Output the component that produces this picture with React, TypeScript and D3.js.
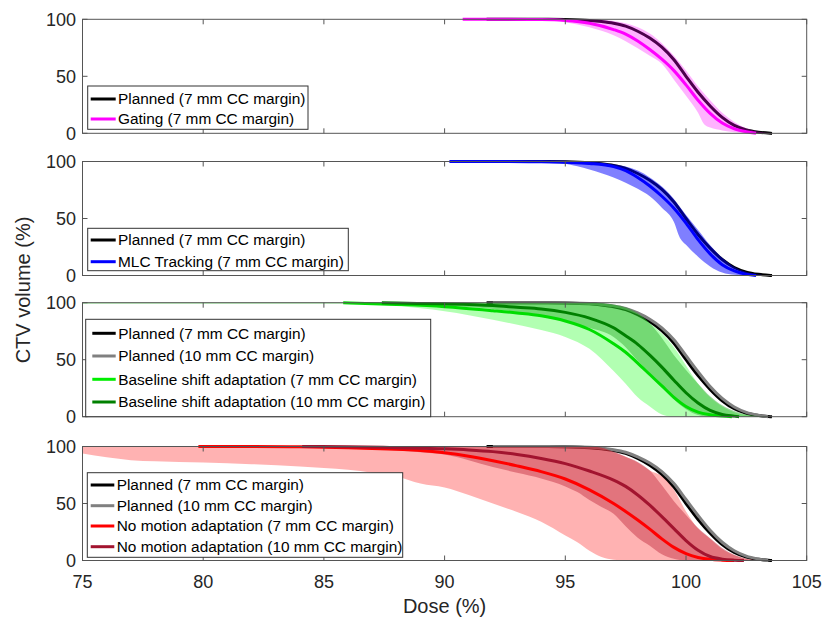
import React from 'react'
import * as d3 from 'd3'

// axes
const doseTicks = [75, 80, 85, 90, 95, 100, 105]
const volTicks = [0, 50, 100]

// planned DVHs (same in every panel)
const plannedDose7 = [91.8, 93, 94, 95, 96, 96.5, 97, 97.5, 98, 98.5, 99, 99.5, 100, 100.5, 101, 101.5, 102, 102.5, 103, 103.5]
const plannedVol7 = [100, 100, 100, 99.8, 99, 98, 96.5, 94, 89.5, 83.5, 75.5, 64.5, 50, 36, 24, 14, 7, 3, 1, 0]
const plannedDose10 = [92.0, 93, 94, 95, 96, 96.5, 97, 97.5, 98, 98.5, 99, 99.5, 100, 100.5, 101, 101.5, 102, 102.5, 103, 103.4]
const plannedVol10 = [100, 100, 100, 99.8, 99.3, 98.5, 97.2, 95, 91, 85.5, 78, 67.5, 53.5, 39.5, 26.5, 16, 8.5, 3.8, 1.3, 0]

// gating
const gatingDose = [90.75, 92, 94, 95, 96, 97, 97.5, 98, 98.5, 99, 99.5, 100, 100.5, 101, 101.5, 102, 102.5, 102.9]
const gatingVol = [100, 100, 99.8, 99, 96.5, 91, 87, 81, 73.5, 65, 55, 42.5, 29, 17.5, 9, 4, 1.3, 0]
const gatingBandDose = [94, 95, 96, 97, 98, 98.5, 99, 99.5, 100, 100.5, 100.75, 101, 101.5, 102, 102.5, 103, 103.5, 103.8]
const gatingBandLo = [100, 97.5, 93, 86, 74.5, 68, 61, 47, 33, 18, 8, 5, 2.5, 1, 0.3, 0, 0, 0]
const gatingBandHi = [100, 100, 100, 98.5, 93, 87.5, 79, 68, 55, 41, 35, 29, 18, 10, 4.5, 1.5, 0.3, 0]

// MLC tracking
const mlcDose = [90.2, 92, 94, 95, 96, 97, 97.5, 98, 98.5, 99, 99.5, 100, 100.5, 101, 101.5, 102, 102.5, 102.9]
const mlcVol = [100, 100, 99.8, 99.3, 98.3, 95.5, 92, 86, 78.5, 69.5, 59, 46, 31.5, 19, 9.5, 4, 1, 0]
const mlcBandDose = [94, 95, 96, 97, 98, 98.5, 99, 99.5, 99.75, 100, 100.5, 101, 101.5, 102, 102.5, 103, 103.5]
const mlcBandLo = [100, 98, 93, 86, 76, 69.5, 59.5, 47, 33, 27, 16.5, 8, 2.6, 0.6, 0, 0, 0]
const mlcBandHi = [100, 100, 99.5, 97.5, 92, 86, 78, 67, 60, 53, 40, 26.5, 15.5, 7.5, 3, 0.8, 0]

// baseline shift adaptation
const bsaDose7 = [85.8, 88, 90, 92, 93, 94, 95, 96, 97, 97.5, 98, 98.5, 99, 99.5, 100, 100.5, 101, 101.5, 101.9]
const bsaVol7 = [100, 98.5, 96.5, 93, 91, 88.5, 84, 76.5, 64, 56.5, 47, 37, 27, 17, 9, 4, 1.7, 0.5, 0]
const bsaDose10 = [87.4, 88, 90, 92, 93, 94, 95, 96, 97, 97.5, 98, 98.5, 99, 99.5, 100, 100.5, 101, 101.5, 102, 102.2]
const bsaVol10 = [100, 99.7, 99, 97.5, 96, 94.5, 91.5, 86.5, 78, 71, 63.5, 54, 43.5, 32, 21, 12, 5.5, 2, 0.5, 0]
const bsaBandDose = [75, 86, 88, 90, 92, 94, 95, 96, 97, 97.5, 98, 98.5, 99, 99.5, 100, 100.5, 101, 101.5, 102, 102.5, 103, 103.5]
const bsaLo7 = [99.4, 99.4, 97, 92.5, 85, 76, 70, 59.5, 40, 29, 17, 9, 2, 0, 0, 0, 0, 0, 0, 0, 0, 0]
const bsaHi7 = [100, 100, 100, 100, 100, 100, 100, 100, 98, 95, 90, 82, 73, 61, 45, 29, 17, 9, 4, 1.5, 0.3, 0]
const bsaLo10 = [99.6, 99.6, 99.3, 97, 94.5, 88, 83.5, 78, 70, 61, 49, 38, 26, 15, 6.5, 1.5, 0, 0, 0, 0, 0, 0]
const bsaHi10 = [100, 100, 100, 100, 100, 100, 100, 100, 98.5, 96, 91, 82, 69, 54, 41, 29, 18, 10, 5, 2, 0.7, 0]

// no motion adaptation
const nmaDose7 = [79.8, 82, 84, 86, 88, 89, 90, 91, 92, 93, 94, 95, 96, 97, 97.5, 98, 98.5, 99, 99.5, 100, 100.5, 101, 101.5, 102]
const nmaVol7 = [100, 100, 99.8, 99, 97.5, 96.5, 94.5, 91.5, 87.5, 83, 78, 71.5, 62, 50, 43, 35.5, 27.5, 19, 11.5, 6, 2.7, 1, 0.3, 0]
const nmaDose10 = [84.1, 86, 88, 90, 91, 92, 93, 94, 95, 96, 97, 97.5, 98, 98.5, 99, 99.5, 100, 100.5, 101, 101.5, 102, 102.4]
const nmaVol10 = [100, 99.8, 99, 98, 97, 95.5, 93, 89.5, 85, 78.5, 70.5, 65, 57.5, 48.5, 38.5, 28, 17.5, 9, 3.5, 1.2, 0.3, 0]
const nmaBandDose7 = [75, 76, 77, 78, 80, 82, 84, 86, 87, 88, 89, 90, 91, 92, 93, 94, 95, 95.5, 96, 96.5, 97, 97.5, 98, 98.5, 99, 99.5, 100, 100.5, 101, 101.5, 102, 102.5, 103]
const nmaLo7 = [93.8, 90.5, 88, 87, 86, 84.5, 82.5, 79.5, 77, 74, 67.5, 64, 57.5, 50, 42.5, 34, 22, 16, 8.5, 3, 0.7, 0, 0, 0, 0, 0, 0, 0, 0, 0, 0, 0, 0]
const nmaHi7 = [100, 100, 100, 100, 100, 100, 100, 100, 100, 100, 100, 100, 100, 100, 100, 100, 100, 100, 100, 99, 95, 91, 86, 79, 74, 62, 43, 28, 19, 10, 4.5, 1.3, 0]
const nmaBandDose10 = [84, 86, 87, 88, 89, 90, 91, 92, 93, 94, 95, 95.5, 96, 96.5, 97, 97.5, 98, 98.5, 99, 99.5, 100, 100.5, 101, 101.5, 102, 102.5, 103, 103.5]
const nmaLo10 = [99.5, 98, 97.5, 96.5, 95, 93, 88, 82, 77, 72, 65, 60, 53, 47, 41, 30, 20, 13, 5.5, 1.5, 0, 0, 0, 0, 0, 0, 0, 0]
const nmaHi10 = [100, 100, 100, 100, 100, 100, 100, 100, 100, 100, 100, 100, 100, 99, 95.6, 91, 86.5, 79, 66, 52, 40, 28.5, 19.5, 11, 5, 1.5, 0.3, 0]

// legend labels
const legend1 = ['Planned (7 mm CC margin)', 'Gating (7 mm CC margin)']
const legend2 = ['Planned (7 mm CC margin)', 'MLC Tracking (7 mm CC margin)']
const legend3 = ['Planned (7 mm CC margin)', 'Planned (10 mm CC margin)', 'Baseline shift adaptation (7 mm CC margin)', 'Baseline shift adaptation (10 mm CC margin)']
const legend4 = ['Planned (7 mm CC margin)', 'Planned (10 mm CC margin)', 'No motion adaptation (7 mm CC margin)', 'No motion adaptation (10 mm CC margin)']

const FONT = '"Liberation Sans", Arial, Helvetica, sans-serif'
const AXIS = '#555555'
const PANEL_H = 114

const x = d3.scaleLinear().domain([75, 105]).range([82.5, 806.7])

const black = '#000000'
const gray = '#808080'

const planned7 = {dose: plannedDose7, vol: plannedVol7, color: black, cap: 'square'}
const planned10 = {dose: plannedDose10, vol: plannedVol10, color: gray, cap: 'butt'}

const panels = [
  {
    top: 19.3,
    planned: [planned7],
    bands: [{dose: gatingBandDose, lo: gatingBandLo, hi: gatingBandHi, color: '#ff00ff', opacity: 0.3}],
    means: [{dose: gatingDose, vol: gatingVol, color: '#ff00ff'}],
    legend: {labels: legend1, colors: [black, '#ff00ff'], box: [87.7, 86, 220.3, 43.3], rows: [99, 119], line: [90.7, 115.7], text: 118},
  },
  {
    top: 161.5,
    planned: [planned7],
    bands: [{dose: mlcBandDose, lo: mlcBandLo, hi: mlcBandHi, color: '#0000ff', opacity: 0.5}],
    means: [{dose: mlcDose, vol: mlcVol, color: '#0000ff'}],
    legend: {labels: legend2, colors: [black, '#0000ff'], box: [87.7, 228.3, 260.6, 42.4], rows: [240, 261.7], line: [90.7, 115.7], text: 118},
  },
  {
    top: 302.7,
    planned: [planned7, planned10],
    bands: [
      {dose: bsaBandDose, lo: bsaLo7, hi: bsaHi7, color: '#00ff00', opacity: 0.3},
      {dose: bsaBandDose, lo: bsaLo10, hi: bsaHi10, color: 'rgb(40,170,40)', opacity: 0.45},
    ],
    means: [
      {dose: bsaDose7, vol: bsaVol7, color: '#00dd00'},
      {dose: bsaDose10, vol: bsaVol10, color: '#008000'},
    ],
    legend: {labels: legend3, colors: [black, gray, '#00ee00', '#008000'], box: [85.7, 319.3, 345, 97.4], rows: [333.3, 356, 379.3, 402], line: [92.3, 115.7], text: 118.3},
  },
  {
    top: 446.5,
    planned: [planned7, planned10],
    bands: [
      {dose: nmaBandDose7, lo: nmaLo7, hi: nmaHi7, color: '#ff0000', opacity: 0.3},
      {dose: nmaBandDose10, lo: nmaLo10, hi: nmaHi10, color: 'rgb(190,40,60)', opacity: 0.45},
    ],
    means: [
      {dose: nmaDose7, vol: nmaVol7, color: '#ff0000'},
      {dose: nmaDose10, vol: nmaVol10, color: '#a2142f'},
    ],
    legend: {labels: legend4, colors: [black, gray, '#ff0000', '#a2142f'], box: [87.3, 472.7, 315.4, 84.6], rows: [485, 505.7, 526, 546.7], line: [90.7, 114.3], text: 116.7},
  },
]

function Panel({p, last}: any) {
  const y = d3.scaleLinear().domain([0, 100]).range([p.top + PANEL_H, p.top])
  const [x0, x1] = x.range()
  const bottom = p.top + PANEL_H

  const line = (d: any) =>
    d3.line<number>()
      .x((_, i) => x(d.dose[i]))
      .y(v => y(v))
      .curve(d3.curveMonotoneX)(d.vol) as string

  const area = (b: any) =>
    d3.area<number>()
      .x(v => x(v))
      .y0((_, i) => y(b.lo[i]))
      .y1((_, i) => y(b.hi[i]))
      .curve(d3.curveMonotoneX)(b.dose) as string

  const lg = p.legend
  return (
    <g>
      {p.planned.map((d: any, i: number) => (
        <path key={'p' + i} d={line(d)} fill="none" stroke={d.color} strokeWidth={3} strokeLinecap={d.cap} />
      ))}
      {p.bands.map((b: any, i: number) => (
        <path key={'b' + i} d={area(b)} fill={b.color} fillOpacity={b.opacity} stroke="none" />
      ))}
      {p.means.map((d: any, i: number) => (
        <path key={'m' + i} d={line(d)} fill="none" stroke={d.color} strokeWidth={3} />
      ))}

      <rect x={x0} y={p.top} width={x1 - x0} height={PANEL_H} fill="none" stroke={AXIS} strokeWidth={1} />
      {doseTicks.map(t => (
        <g key={'xt' + t}>
          <line x1={x(t)} x2={x(t)} y1={bottom} y2={bottom - 5} stroke={AXIS} />
          <line x1={x(t)} x2={x(t)} y1={p.top} y2={p.top + 5} stroke={AXIS} />
          {last && (
            <text x={x(t)} y={bottom + 27} textAnchor="middle" fontSize={18} fill="#262626">{t}</text>
          )}
        </g>
      ))}
      {volTicks.map(t => (
        <g key={'yt' + t}>
          <line x1={x0} x2={x0 + 5} y1={y(t)} y2={y(t)} stroke={AXIS} />
          <line x1={x1} x2={x1 - 5} y1={y(t)} y2={y(t)} stroke={AXIS} />
          <text x={76} y={y(t) + 6.5} textAnchor="end" fontSize={18} fill="#262626">{t}</text>
        </g>
      ))}

      <rect x={lg.box[0]} y={lg.box[1]} width={lg.box[2]} height={lg.box[3]} fill="#ffffff" stroke="#333333" strokeWidth={1} />
      {lg.labels.map((label: string, i: number) => (
        <g key={'l' + i}>
          <line x1={lg.line[0]} x2={lg.line[1]} y1={lg.rows[i]} y2={lg.rows[i]} stroke={lg.colors[i]} strokeWidth={3} />
          <text x={lg.text} y={lg.rows[i] + 5.3} fontSize={15.4} fill="#000000">{label}</text>
        </g>
      ))}
    </g>
  )
}

export default function App() {
  return (
    <svg width={825} height={619} style={{position: 'absolute', left: 0, top: 0, background: '#ffffff'}} fontFamily={FONT}>
      <rect width={825} height={619} fill="#ffffff" />
      {panels.map((p, i) => (
        <Panel key={i} p={p} last={i === panels.length - 1} />
      ))}
      <text x={(x.range()[0] + x.range()[1]) / 2} y={613} textAnchor="middle" fontSize={20} fill="#262626">Dose (%)</text>
      <text transform="translate(30,290) rotate(-90)" textAnchor="middle" fontSize={20} fill="#262626">CTV volume (%)</text>
    </svg>
  )
}
